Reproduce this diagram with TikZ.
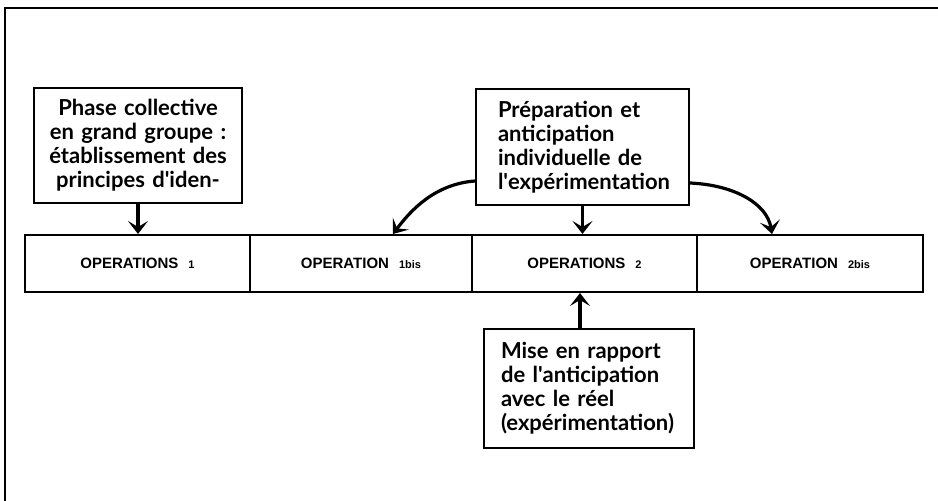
\documentclass[tikz,border=0pt]{standalone}
\usepackage{fontspec}
\setmainfont{Lato}
\newfontfamily\opfont{Liberation Sans}
\usetikzlibrary{arrows.meta,calc}
\begin{document}
\begin{tikzpicture}[x=1pt,y=-1pt,
  box/.style={draw,line width=2pt,inner sep=0pt,font=\fontsize{22}{24}\selectfont\bfseries},
  opbox/.style={draw,line width=2pt,inner sep=0pt,minimum height=57pt,font=\opfont\fontsize{15}{17}\selectfont\bfseries},
  arr/.style={line width=3.2pt,-{Stealth[length=13pt,width=20pt,inset=6pt]}},
  frame/.style={line width=2pt}]
\useasboundingbox (0,0) rectangle (938,501);
\draw[frame] (5,501) -- (5,8) -- (938,8);

\node[box, minimum width=208pt, minimum height=115pt, text width=186pt, align=center] (A) at (138,145.5)
  {Phase collective\\en grand groupe :\\établissement des\\principes d\textquotesingle iden-};
\node[box, minimum width=213pt, minimum height=116pt, text width=169pt, align=left] (B) at (582.5,147)
  {Préparation et\\anticipation\\individuelle de\\l\textquotesingle expérimentation};
\node[box, minimum width=210pt, minimum height=119pt, text width=176pt, align=left] (C) at (589,388.5)
  {Mise en rapport\\de l\textquotesingle anticipation\\avec le réel\\(expérimentation)};

\node[opbox, minimum width=225pt] (op1) at (137.5,263.5) {OPERATIONS\hspace{10pt}{\fontsize{11}{11}\selectfont 1}};
\node[opbox, minimum width=222pt] (op1b) at (361,263.5) {OPERATION\hspace{10pt}{\fontsize{11}{11}\selectfont 1bis}};
\node[opbox, minimum width=225pt] (op2) at (584.5,263.5) {OPERATIONS\hspace{10pt}{\fontsize{11}{11}\selectfont 2}};
\node[opbox, minimum width=226pt] (op2b) at (810,263.5) {OPERATION\hspace{10pt}{\fontsize{11}{11}\selectfont 2bis}};

\draw[arr] (A.south) -- (A.south |- op1.north);
\draw[arr] (B.south) -- (B.south |- op2.north);
\coordinate (ctop) at ($(C.north)+(-9,0)$);
\draw[arr] (ctop) -- (ctop |- op2.south);

\coordinate (bl) at ($(B.south west)+(0,-25)$);
\coordinate (el) at ($(op1b.north)+(32,0)$);
\draw[arr] (bl) .. controls ($(bl)+(-40,3)$) and ($(el)+(18,-24)$) .. (el);
\coordinate (br) at ($(B.south east)+(0,-23)$);
\coordinate (er) at ($(op2b.north)+(-38,0)$);
\draw[arr] (br) .. controls ($(br)+(45,2)$) and ($(er)+(-5,-30)$) .. (er);
\end{tikzpicture}
\end{document}
